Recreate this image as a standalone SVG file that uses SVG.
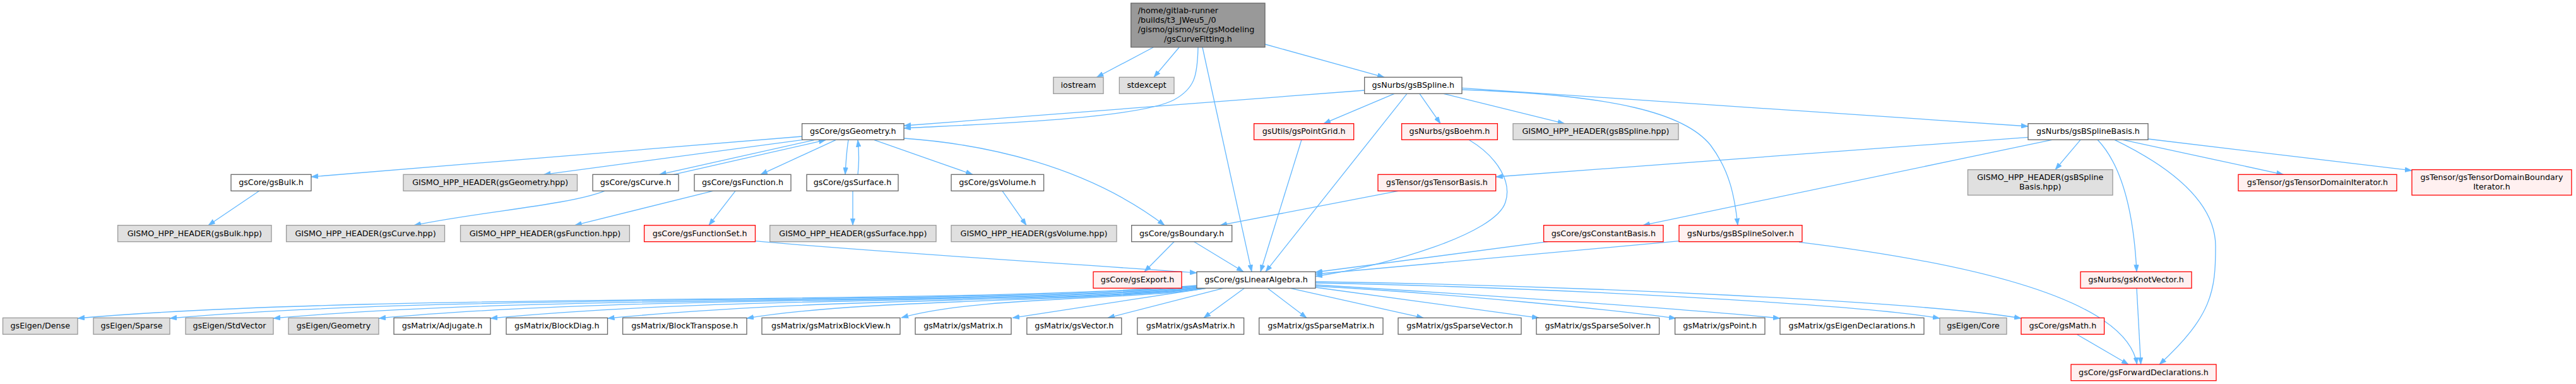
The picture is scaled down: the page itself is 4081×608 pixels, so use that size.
<svg xmlns="http://www.w3.org/2000/svg" width="4081" height="608" viewBox="0 0 4081 608">
<style>
rect{stroke-width:1.3}
.w{fill:#ffffff;stroke:#666666}
.g{fill:#e0e0e0;stroke:#999999}
.r{fill:#fff0f0;stroke:#ff0000}
.root{fill:#999999;stroke:#666666}
text{font-family:"DejaVu Sans",Verdana,sans-serif;font-size:12.7px;text-anchor:middle;fill:#000000}
text.l{text-anchor:start}
#edges path{fill:none;stroke:#63b8ff;stroke-width:1.3;marker-end:url(#a)}
</style>
<defs>
<marker id="a" viewBox="0 0 11 8" refX="11" refY="4" markerWidth="11" markerHeight="8" markerUnits="userSpaceOnUse" orient="auto"><path d="M0,0L11,4L0,8z" fill="#63b8ff" stroke="#63b8ff" stroke-width="0.5"/></marker>
</defs>
<rect width="4081" height="608" fill="#ffffff"/>
<g id="edges">
<path d="M1827,75 L1737.5,122.3"/>
<path d="M1868,75 L1828,122.3"/>
<path d="M2004,70 L2193,122.3"/>
<path d="M1898,75 C1897,120 1893,140 1860,158 C1800,190 1520,198 1432,203"/>
<path d="M1905,75 L1983,430.3"/>
<path d="M2162,143 L1432,199"/>
<path d="M2209,148.3 L2097,195.7"/>
<path d="M2229,148.3 L2005,430.3"/>
<path d="M2249,148.3 L2282,195.7"/>
<path d="M2287,148.3 L2478.6,195.7"/>
<path d="M2316,139.3 L3213,200"/>
<path d="M2316,142 C2560,150 2670,180 2710,230 C2740,270 2748,310 2753,356.7"/>
<path d="M1270.6,216 L493,280"/>
<path d="M1272,221.3 L861.6,276.3"/>
<path d="M1290,221.7 L1044.6,276.3"/>
<path d="M1067,276.3 L1308,221.7"/>
<path d="M1324,221.7 L1205,276.3"/>
<path d="M1344,221.7 C1341,240 1340,258 1339,276.3"/>
<path d="M1359,276.3 C1361,258 1361,240 1359,221.7"/>
<path d="M1385,221.7 L1541,276.3"/>
<path d="M1432,219 C1560,228 1720,262 1845,356.7"/>
<path d="M410.7,302.3 L330,356.7"/>
<path d="M958,302.3 C900,325 760,335 656,356.7"/>
<path d="M1129.5,302.3 L910.7,356.7"/>
<path d="M1165,302.3 L1123,356.7"/>
<path d="M1351,302.3 L1351,356.7"/>
<path d="M1588,302.3 L1626,356.7"/>
<path d="M1196.5,381.7 C1400,400 1700,418 1896,432"/>
<path d="M1860,382.7 L1813,430.3"/>
<path d="M1891.7,382.7 L1970,430.3"/>
<path d="M2215,302.3 L1933,356.7"/>
<path d="M2062,221.3 L1997,430.3"/>
<path d="M2327,221.3 C2375,250 2395,290 2385,320 C2370,370 2200,420 2084,437.5"/>
<path d="M2452,382.7 L2084,431"/>
<path d="M2660,381.7 L2084,434"/>
<path d="M3213,217.3 L2369.7,280"/>
<path d="M3251,221.3 L2603,356.7"/>
<path d="M3296,221.3 L3256,268.7"/>
<path d="M3323,221.3 C3360,260 3380,330 3385,430.3"/>
<path d="M3350,221.3 C3440,265 3510,320 3510,390 C3510,460 3505,500 3421,577"/>
<path d="M3363,221.3 L3617.5,276.3"/>
<path d="M3403,220 L3821,270"/>
<path d="M3385,456.3 L3391.6,577"/>
<path d="M3290,529.3 L3372,577"/>
<path d="M2850,383.3 C3150,420 3370,480 3385.5,577"/>
<path d="M1896,452 C1506,484 602,462 123,504"/>
<path d="M1896,453 C1540,484 730,463 269,504"/>
<path d="M1897,454 C1578,484 876,464 433,504"/>
<path d="M1898,455 C1616,483 1022,465 600,504"/>
<path d="M1900,456 C1656,482 1180,466 777,504"/>
<path d="M1903,456 C1698,480 1345,468 962.5,504"/>
<path d="M1907,456 C1749,478 1372,472 1183,504"/>
<path d="M1912,456 C1800,476 1553,468 1428,503"/>
<path d="M1910,456.5 L1604,503.3"/>
<path d="M1938,456.3 L1755,503.3"/>
<path d="M1971.5,456.3 L1907,503.3"/>
<path d="M2008,456.3 L2070,503.3"/>
<path d="M2044,456.3 L2255,503.3"/>
<path d="M2084,455 L2438,503.3"/>
<path d="M2084,453 C2300,465 2550,490 2655,504"/>
<path d="M2084,451 C2400,470 2700,492 2820,504"/>
<path d="M2084,448 C2450,455 2950,482 3073,504"/>
<path d="M2084,446 C2500,452 3050,478 3202,504"/>
</g>
<g id="root"><rect class="root" x="1791.7" y="5" width="212.3" height="69.7"/>
<text class="l" x="1802.7" y="20.7">/home/gitlab-runner</text>
<text class="l" x="1802.7" y="35.7">/builds/t3_JWeu5_/0</text>
<text class="l" x="1802.7" y="50.7">/gismo/gismo/src/gsModeling</text>
<text x="1897.9" y="65.7">/gsCurveFitting.h</text></g>
<g id="iostream"><rect class="g" x="1668.8" y="122.3" width="79.2" height="26"/><text x="1708.4" y="139.1">iostream</text></g>
<g id="stdexcept"><rect class="g" x="1773.3" y="122.3" width="86.7" height="26"/><text x="1816.65" y="139.1">stdexcept</text></g>
<g id="gsBSpline"><rect class="w" x="2161.7" y="122.3" width="154.3" height="26"/><text x="2238.85" y="139.1">gsNurbs/gsBSpline.h</text></g>
<g id="gsGeometry"><rect class="w" x="1270.6" y="195.7" width="161.4" height="25.6"/><text x="1351.3" y="212.3">gsCore/gsGeometry.h</text></g>
<g id="gsPointGrid"><rect class="r" x="1986.6" y="195.7" width="158.1" height="25.6"/><text x="2065.65" y="212.3">gsUtils/gsPointGrid.h</text></g>
<g id="gsBoehm"><rect class="r" x="2220.6" y="195.7" width="151.8" height="25.6"/><text x="2296.5" y="212.3">gsNurbs/gsBoehm.h</text></g>
<g id="gsBSplineHpp"><rect class="g" x="2397" y="195.7" width="262" height="25.6"/><text x="2528" y="212.3">GISMO_HPP_HEADER(gsBSpline.hpp)</text></g>
<g id="gsBSplineBasis"><rect class="w" x="3213" y="195.7" width="190" height="25.6"/><text x="3308" y="212.3">gsNurbs/gsBSplineBasis.h</text></g>
<g id="gsBulk"><rect class="w" x="366" y="276.3" width="127" height="26"/><text x="429.5" y="293.1">gsCore/gsBulk.h</text></g>
<g id="gsGeometryHpp"><rect class="g" x="639" y="276.3" width="275.5" height="26"/><text x="776.75" y="293.1">GISMO_HPP_HEADER(gsGeometry.hpp)</text></g>
<g id="gsCurve"><rect class="w" x="939" y="276.3" width="136" height="26"/><text x="1007" y="293.1">gsCore/gsCurve.h</text></g>
<g id="gsFunction"><rect class="w" x="1100" y="276.3" width="153" height="26"/><text x="1176.5" y="293.1">gsCore/gsFunction.h</text></g>
<g id="gsSurface"><rect class="w" x="1278" y="276.3" width="145" height="26"/><text x="1350.5" y="293.1">gsCore/gsSurface.h</text></g>
<g id="gsVolume"><rect class="w" x="1507" y="276.3" width="146.6" height="26"/><text x="1580.3" y="293.1">gsCore/gsVolume.h</text></g>
<g id="gsTensorBasis"><rect class="r" x="2183" y="276.3" width="186.7" height="26"/><text x="2276.35" y="293.1">gsTensor/gsTensorBasis.h</text></g>
<g id="gsBSplineBasisHpp"><rect class="g" x="3117.5" y="268.7" width="229.5" height="40.3"/><text x="3232.25" y="285.1">GISMO_HPP_HEADER(gsBSpline</text><text x="3232.25" y="300.1">Basis.hpp)</text></g>
<g id="gsTensorDomainIterator"><rect class="r" x="3546" y="276.3" width="251" height="26"/><text x="3671.5" y="293.1">gsTensor/gsTensorDomainIterator.h</text></g>
<g id="gsTensorDomainBoundaryIterator"><rect class="r" x="3821" y="268.7" width="253" height="40.3"/><text x="3947.5" y="285.1">gsTensor/gsTensorDomainBoundary</text><text x="3947.5" y="300.1">Iterator.h</text></g>
<g id="gsBulkHpp"><rect class="g" x="186.6" y="356.7" width="243.4" height="26"/><text x="308.3" y="373.5">GISMO_HPP_HEADER(gsBulk.hpp)</text></g>
<g id="gsCurveHpp"><rect class="g" x="453.6" y="356.7" width="250.9" height="26"/><text x="579.05" y="373.5">GISMO_HPP_HEADER(gsCurve.hpp)</text></g>
<g id="gsFunctionHpp"><rect class="g" x="729.5" y="356.7" width="267.9" height="26"/><text x="863.45" y="373.5">GISMO_HPP_HEADER(gsFunction.hpp)</text></g>
<g id="gsFunctionSet"><rect class="r" x="1020.6" y="356.7" width="175.9" height="26"/><text x="1108.55" y="373.5">gsCore/gsFunctionSet.h</text></g>
<g id="gsSurfaceHpp"><rect class="g" x="1219.7" y="356.7" width="263.3" height="26"/><text x="1351.35" y="373.5">GISMO_HPP_HEADER(gsSurface.hpp)</text></g>
<g id="gsVolumeHpp"><rect class="g" x="1507" y="356.7" width="262" height="26"/><text x="1638" y="373.5">GISMO_HPP_HEADER(gsVolume.hpp)</text></g>
<g id="gsBoundary"><rect class="w" x="1792.7" y="356.7" width="159" height="26"/><text x="1872.2" y="373.5">gsCore/gsBoundary.h</text></g>
<g id="gsConstantBasis"><rect class="r" x="2445.6" y="356.7" width="189.4" height="26"/><text x="2540.3" y="373.5">gsCore/gsConstantBasis.h</text></g>
<g id="gsBSplineSolver"><rect class="r" x="2660" y="356.7" width="195" height="26"/><text x="2757.5" y="373.5">gsNurbs/gsBSplineSolver.h</text></g>
<g id="gsExport"><rect class="r" x="1732" y="430.3" width="140" height="26"/><text x="1802" y="447.1">gsCore/gsExport.h</text></g>
<g id="gsLinearAlgebra"><rect class="w" x="1896" y="430.3" width="188" height="26"/><text x="1990" y="447.1">gsCore/gsLinearAlgebra.h</text></g>
<g id="gsKnotVector"><rect class="r" x="3296" y="430.3" width="176" height="26"/><text x="3384" y="447.1">gsNurbs/gsKnotVector.h</text></g>
<g id="gsEigenDense"><rect class="g" x="4.5" y="503.3" width="118.5" height="26"/><text x="63.75" y="520.1">gsEigen/Dense</text></g>
<g id="gsEigenSparse"><rect class="g" x="148" y="503.3" width="121" height="26"/><text x="208.5" y="520.1">gsEigen/Sparse</text></g>
<g id="gsEigenStdVector"><rect class="g" x="294" y="503.3" width="139" height="26"/><text x="363.5" y="520.1">gsEigen/StdVector</text></g>
<g id="gsEigenGeometry"><rect class="g" x="457" y="503.3" width="143" height="26"/><text x="528.5" y="520.1">gsEigen/Geometry</text></g>
<g id="Adjugate"><rect class="w" x="624" y="503.3" width="153" height="26"/><text x="700.5" y="520.1">gsMatrix/Adjugate.h</text></g>
<g id="BlockDiag"><rect class="w" x="802" y="503.3" width="160.5" height="26"/><text x="882.25" y="520.1">gsMatrix/BlockDiag.h</text></g>
<g id="BlockTranspose"><rect class="w" x="986.6" y="503.3" width="196.4" height="26"/><text x="1084.8" y="520.1">gsMatrix/BlockTranspose.h</text></g>
<g id="gsMatrixBlockView"><rect class="w" x="1207" y="503.3" width="219" height="26"/><text x="1316.5" y="520.1">gsMatrix/gsMatrixBlockView.h</text></g>
<g id="gsMatrix"><rect class="w" x="1450" y="503.3" width="152" height="26"/><text x="1526" y="520.1">gsMatrix/gsMatrix.h</text></g>
<g id="gsVector"><rect class="w" x="1626.8" y="503.3" width="150" height="26"/><text x="1701.8" y="520.1">gsMatrix/gsVector.h</text></g>
<g id="gsAsMatrix"><rect class="w" x="1801.8" y="503.3" width="168.8" height="26"/><text x="1886.2" y="520.1">gsMatrix/gsAsMatrix.h</text></g>
<g id="gsSparseMatrix"><rect class="w" x="1994.7" y="503.3" width="196.3" height="26"/><text x="2092.85" y="520.1">gsMatrix/gsSparseMatrix.h</text></g>
<g id="gsSparseVector"><rect class="w" x="2215" y="503.3" width="195" height="26"/><text x="2312.5" y="520.1">gsMatrix/gsSparseVector.h</text></g>
<g id="gsSparseSolver"><rect class="w" x="2434" y="503.3" width="194.6" height="26"/><text x="2531.3" y="520.1">gsMatrix/gsSparseSolver.h</text></g>
<g id="gsPoint"><rect class="w" x="2653.6" y="503.3" width="142.4" height="26"/><text x="2724.8" y="520.1">gsMatrix/gsPoint.h</text></g>
<g id="gsEigenDeclarations"><rect class="w" x="2820" y="503.3" width="228" height="26"/><text x="2934" y="520.1">gsMatrix/gsEigenDeclarations.h</text></g>
<g id="gsEigenCore"><rect class="g" x="3073" y="503.3" width="106" height="26"/><text x="3126" y="520.1">gsEigen/Core</text></g>
<g id="gsMath"><rect class="r" x="3202" y="503.3" width="131.6" height="26"/><text x="3267.8" y="520.1">gsCore/gsMath.h</text></g>
<g id="gsForwardDeclarations"><rect class="r" x="3281" y="577" width="230" height="25.7"/><text x="3396" y="593.6">gsCore/gsForwardDeclarations.h</text></g>
</svg>
